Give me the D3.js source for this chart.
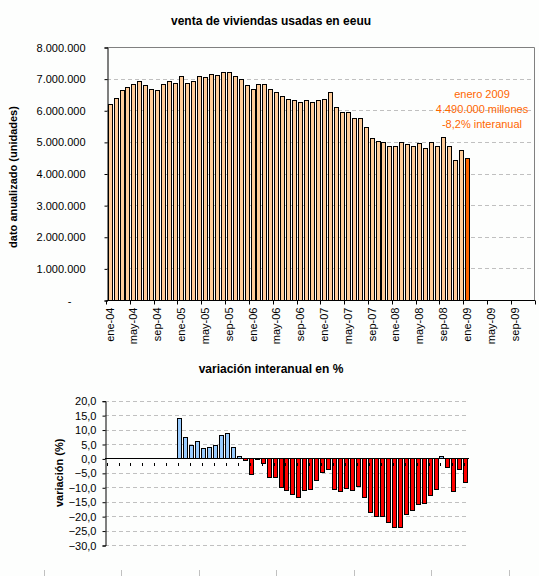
<!DOCTYPE html>
<html>
<head>
<meta charset="utf-8">
<script src="https://cdn.jsdelivr.net/npm/d3@7"></script>
<style>
  body { margin: 0; background: #fdfefd; }
  svg { display: block; font-family: "Liberation Sans", Arial, sans-serif; }
  .title { font-weight: bold; font-size: 12px; }
  .axis-title { font-weight: bold; font-size: 11px; }
  .tick text { font-size: 11px; fill: #000; }
</style>
</head>
<body>
<svg width="539" height="576"></svg>
<script>
// meses y años del eje x
const monthNames = ['ene', 'feb', 'mar', 'abr', 'may', 'jun', 'jul', 'ago', 'sep', 'oct', 'nov', 'dic'];
const years = ['04', '05', '06', '07', '08', '09'];

// ventas anualizadas (millones de unidades), ene-04 .. ene-09
const sales = [
    6.21, 6.40, 6.65, 6.72, 6.84, 6.91, 6.81, 6.68, 6.65, 6.84, 6.94, 6.87,
    7.09, 6.87, 6.94, 7.09, 7.06, 7.16, 7.13, 7.22, 7.22, 7.09, 7.00, 6.81,
    6.68, 6.84, 6.84, 6.68, 6.59, 6.46, 6.34, 6.31, 6.27, 6.31, 6.27, 6.31,
    6.37, 6.59, 6.09, 5.93, 5.93, 5.74, 5.74, 5.48, 5.11, 5.04, 5.01, 4.88,
    4.88, 5.01, 4.92, 4.88, 4.98, 4.82, 5.01, 4.88, 5.14, 4.88, 4.44, 4.73,
    4.49
];

// variación interanual en %, ene-04 .. ene-09 (sin dato el primer año)
const yoy = [
    null, null, null, null, null, null, null, null, null, null, null, null,
    13.9, 7.3, 4.5, 5.9, 3.5, 3.8, 4.5, 8.0, 8.7, 3.8, 1.0, -0.7,
    -5.5, -0.2, -1.7, -6.3, -6.6, -10.0, -11.1, -12.5, -13.2, -11.1, -10.7, -7.6,
    -4.8, -3.8, -10.7, -11.4, -10.4, -11.1, -9.4, -13.2, -18.7, -20.1, -20.1, -22.2,
    -23.6, -23.9, -19.4, -17.7, -15.9, -15.6, -12.8, -10.7, 0.7, -3.1, -11.4, -3.5,
    -8.3
];

const salesTicks = [0, 1e6, 2e6, 3e6, 4e6, 5e6, 6e6, 7e6, 8e6];
const yoyTicks = [20, 15, 10, 5, 0, -5, -10, -15, -20, -25, -30];
const note = ['enero 2009', '4.490.000 millones', '-8,2% interanual'];

const colors = {
    bar: '#ffcc99',
    last: '#ff6600',
    up: '#99ccff',
    down: '#ff0000',
    grid: '#c0c0c0',
    frame: '#808080'
};

let months = [];
for (let y of years) {
    for (let m of monthNames) months.push(m + '-' + y);
}

const svg = d3.select('svg');
const locale = d3.formatLocale({ decimal: ',', thousands: '.', grouping: [3], currency: ['', ''] });
const fmtMil = locale.format(',.0f');
const fmtPct = locale.format('.1f');

// ---------- gráfico de ventas ----------
function drawSales() {
    const x = d3.scaleBand().domain(months).range([107, 535]).paddingInner(0.32).paddingOuter(0.1);
    const y = d3.scaleLinear().domain([0, 8e6]).range([300, 47]);

    svg.append('text').attr('class', 'title')
        .attr('x', 271).attr('y', 25).attr('text-anchor', 'middle')
        .text('venta de viviendas usadas en eeuu');

    // rejilla
    svg.append('g').selectAll('line')
        .data(salesTicks.filter(d => d > 0 && d < 8e6))
        .join('line')
        .attr('x1', 107).attr('x2', 535)
        .attr('y1', d => Math.round(y(d)) + 0.5).attr('y2', d => Math.round(y(d)) + 0.5)
        .attr('stroke', colors.grid).attr('stroke-dasharray', '4,3');

    // marco arriba y derecha
    svg.append('path')
        .attr('d', `M107,${Math.round(y(8e6)) + 0.5}H534.5V300`)
        .attr('fill', 'none').attr('stroke', colors.frame);

    svg.append('g').selectAll('rect')
        .data(sales)
        .join('rect')
        .attr('x', (d, i) => Math.round(x(months[i])) + 0.5)
        .attr('y', d => Math.round(y(d * 1e6)) + 0.5)
        .attr('width', Math.round(x.bandwidth()))
        .attr('height', d => Math.round(y(0)) - Math.round(y(d * 1e6)))
        .attr('fill', (d, i) => i === sales.length - 1 ? colors.last : colors.bar)
        .attr('stroke', '#000').attr('stroke-width', 1);

    // eje y
    const yAxis = d3.axisLeft(y).tickValues(salesTicks).tickSize(3).tickPadding(19)
        .tickFormat(d => d === 0 ? '-' : fmtMil(d));
    const gy = svg.append('g').attr('transform', 'translate(107.5,0.5)').call(yAxis);
    gy.select('.domain').attr('stroke', '#000');
    gy.selectAll('.tick text').filter(d => d === 0).attr('dx', -14);

    // eje x
    const step = x.step();
    const gx = svg.append('g').attr('transform', 'translate(0,300.5)');
    gx.append('line').attr('x1', 107).attr('x2', 535).attr('stroke', '#000');
    gx.selectAll('.tk')
        .data(d3.range(0, months.length + 1, 4))
        .join('line')
        .attr('x1', i => Math.round(107 + i * step) - 0.5)
        .attr('x2', i => Math.round(107 + i * step) - 0.5)
        .attr('y1', 0).attr('y2', 4).attr('stroke', '#000');
    gx.selectAll('text')
        .data(months.filter((d, i) => i % 4 === 0))
        .join('text')
        .attr('transform', d => `translate(${x(d) + x.bandwidth() / 2 + 4},7) rotate(-90)`)
        .attr('text-anchor', 'end')
        .style('font-size', '11px')
        .text(d => d);

    svg.append('text').attr('class', 'axis-title')
        .attr('transform', 'translate(17,177) rotate(-90)')
        .attr('text-anchor', 'middle')
        .text('dato anualizado (unidades)');

    // nota del último dato
    svg.append('g').selectAll('text')
        .data(note)
        .join('text')
        .attr('x', 482).attr('y', (d, i) => 98 + i * 15)
        .attr('text-anchor', 'middle')
        .attr('fill', colors.last)
        .style('font-size', '11px')
        .text(d => d);
}

// ---------- gráfico de variación ----------
function drawYoy() {
    const cats = months.slice(0, yoy.length);
    const x = d3.scaleBand().domain(cats).range([105, 468]).paddingInner(0.32).paddingOuter(0.1);
    const y = d3.scaleLinear().domain([-30, 20]).range([545, 400.7]);

    svg.append('text').attr('class', 'title')
        .attr('x', 271).attr('y', 373).attr('text-anchor', 'middle')
        .text('variación interanual en %');

    svg.append('g').selectAll('line')
        .data(yoyTicks.filter(d => d !== 0))
        .join('line')
        .attr('x1', 105).attr('x2', 467)
        .attr('y1', d => Math.round(y(d)) + 0.5).attr('y2', d => Math.round(y(d)) + 0.5)
        .attr('stroke', colors.grid).attr('stroke-dasharray', '4,3');

    const y0 = Math.round(y(0));
    svg.append('g').selectAll('rect')
        .data(yoy.map((v, i) => ({ v, c: cats[i] })).filter(d => d.v !== null))
        .join('rect')
        .attr('x', d => Math.round(x(d.c)) + 0.5)
        .attr('y', d => Math.round(y(Math.max(0, d.v))) + 0.5)
        .attr('width', Math.round(x.bandwidth()))
        .attr('height', d => Math.max(1, Math.abs(Math.round(y(d.v)) - y0)))
        .attr('fill', d => d.v >= 0 ? colors.up : colors.down)
        .attr('stroke', '#000').attr('stroke-width', 1);

    const yAxis = d3.axisLeft(y).tickValues(yoyTicks).tickSize(3).tickPadding(6)
        .tickFormat(d => fmtPct(d));
    const gy = svg.append('g').attr('transform', 'translate(105.5,0.5)').call(yAxis);
    gy.select('.domain').attr('stroke', '#000');

    svg.append('line')
        .attr('x1', 105).attr('x2', 469)
        .attr('y1', y0 + 0.5).attr('y2', y0 + 0.5)
        .attr('stroke', '#000');

    // rótulos de categoría recortados (marcas pequeñas bajo el cero)
    svg.append('g').selectAll('rect')
        .data(cats.filter((d, i) => i % 2 === 0))
        .join('rect')
        .attr('x', d => Math.round(x(d)) + 1)
        .attr('y', y0 + 5)
        .attr('width', 1).attr('height', 3)
        .attr('fill', '#000');

    svg.append('text').attr('class', 'axis-title')
        .attr('transform', `translate(63,${y(-5)}) rotate(-90)`)
        .attr('text-anchor', 'middle')
        .text('variación (%)');
}

// marcas del gráfico siguiente, cortado abajo
function drawCut() {
    const xs = d3.scaleLinear().domain([0, 6]).range([43.5, 509]);
    svg.append('g').selectAll('line')
        .data(d3.range(0, 7))
        .join('line')
        .attr('x1', d => Math.round(xs(d)) + 0.5).attr('x2', d => Math.round(xs(d)) + 0.5)
        .attr('y1', 570).attr('y2', 576)
        .attr('stroke', colors.grid);
}

drawSales();
drawYoy();
drawCut();
</script>
</body>
</html>
